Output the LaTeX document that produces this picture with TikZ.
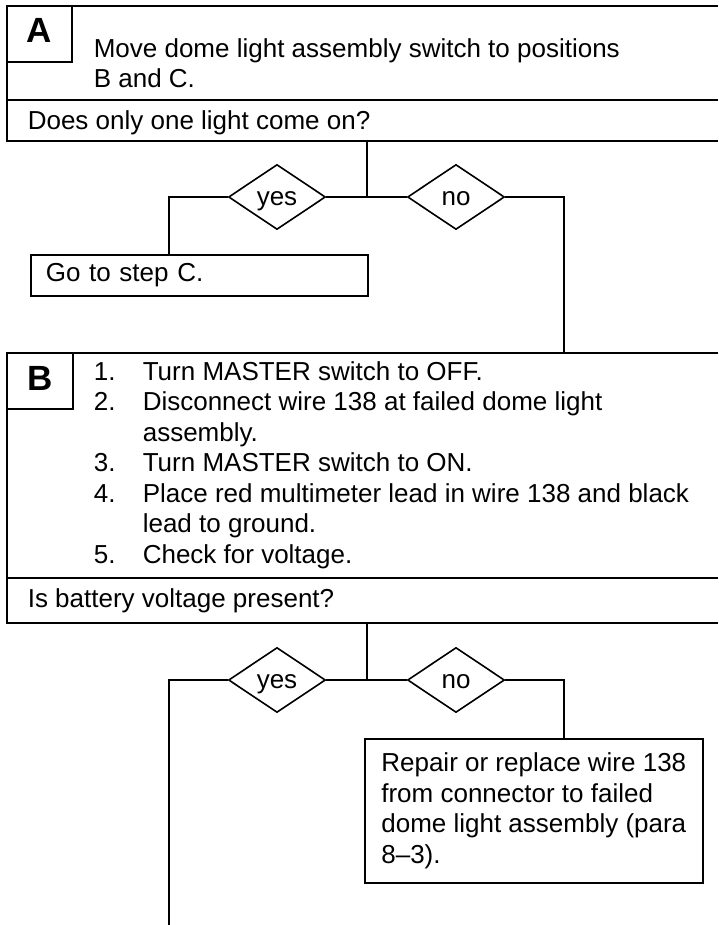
\documentclass[tikz,border=0pt]{standalone}
\usepackage{fontspec}
\setmainfont{Liberation Sans}
\usetikzlibrary{shapes.geometric}
\newcommand{\chartfont}{\fontsize{26}{30.5}\selectfont}
\newcommand{\letterfont}{\fontsize{35}{40}\selectfont\bfseries}
\newcommand{\numitem}[1]{\makebox[49pt][l]{#1}}
\begin{document}
\begin{tikzpicture}[x=1pt, y=-1pt, line width=1.6pt,
  every node/.style={font=\chartfont, inner sep=0pt},
  txt/.style={anchor=base west, align=left},
  letter/.style={anchor=base, font=\letterfont},
  choice/.style={draw, diamond, minimum width=97pt, minimum height=65pt, aspect=1.5,
    text height=17pt, text depth=0pt},
  actbox/.style={draw, anchor=north west, align=left, inner xsep=15pt}]
\useasboundingbox (0,0) rectangle (718,925);
% Step A
\draw (718,6) -- (7,6) -- (7,141) -- (718,141);
\draw (7,100) -- (718,100);
\draw (72,6) -- (72,62) -- (7,62);
\node[letter] (letA) at (39,43) {A};
\node[txt] (textA) at (93,88) {Move dome light assembly switch to positions\\B and C.};
\node[txt] (askA) at (27,130) {Does only one light come on?};
% Answers A
\coordinate (outA) at (367,141);
\coordinate (jA) at (367,197);
\node[choice] (yesA) at (277,197) {yes};
\node[choice] (noA) at (456,197) {no};
\node[actbox, text width=307pt, minimum height=41pt] (goC) at (30,254) {Go to step C.};
\coordinate (kA) at (169,197);
\coordinate (inB) at (564,353);
\draw (outA) -- (jA);
\draw (yesA.east) -- (noA.west);
\draw (yesA.west) -- (kA) -- (kA |- goC.north);
\draw (noA.east) -| (inB);
% Step B
\draw (718,353) -- (7,353) -- (7,623) -- (718,623);
\draw (7,578) -- (718,578);
\draw (73,353) -- (73,409) -- (7,409);
\node[letter] (letB) at (40,390) {B};
\node[txt] (listB) at (93,563) {\numitem{1.}Turn MASTER switch to OFF.\\
  \numitem{2.}Disconnect wire 138 at failed dome light\\
  \numitem{}assembly.\\
  \numitem{3.}Turn MASTER switch to ON.\\
  \numitem{4.}Place red multimeter lead in wire 138 and black\\
  \numitem{}lead to ground.\\
  \numitem{5.}Check for voltage.};
\node[txt] (askB) at (27,607) {Is battery voltage present?};
% Answers B
\coordinate (outB) at (367,623);
\coordinate (jB) at (367,680);
\node[choice] (yesB) at (277,680) {yes};
\node[choice] (noB) at (456,680) {no};
\node[actbox, minimum width=338pt, minimum height=144pt] (fixB) at (364,738) {Repair or replace wire 138\\
  from connector to failed\\
  dome light assembly (para\\
  8--3).};
\coordinate (kB) at (564,680);
\coordinate (endB) at (169,925);
\draw (outB) -- (jB);
\draw (yesB.east) -- (noB.west);
\draw (noB.east) -- (kB) -- (kB |- fixB.north);
\draw (yesB.west) -| (endB);
\end{tikzpicture}
\end{document}
